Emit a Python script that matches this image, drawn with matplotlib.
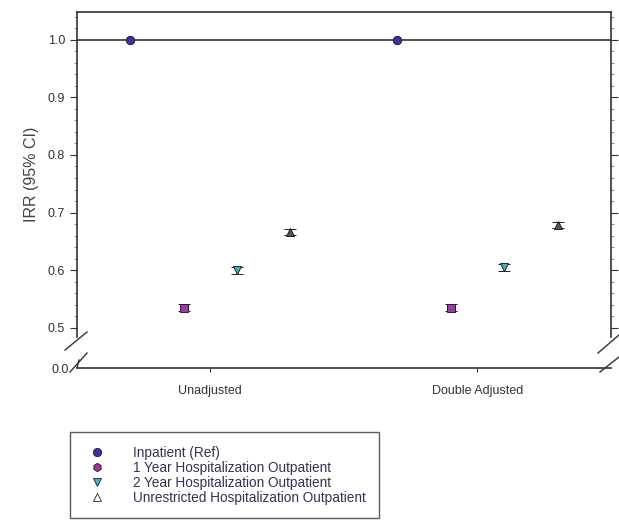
import matplotlib
matplotlib.use("Agg")
import matplotlib.pyplot as plt
from matplotlib.lines import Line2D
from matplotlib.ticker import MultipleLocator
import numpy as np

plt.rcParams['font.family'] = ['Liberation Sans', 'DejaVu Sans']

# data
categories = ['Unadjusted', 'Double Adjusted']
series_names = ['Inpatient (Ref)', '1 Year Hospitalization Outpatient',
                '2 Year Hospitalization Outpatient', 'Unrestricted Hospitalization Outpatient']
inpatient = [1.0, 1.0]
one_year = [0.535, 0.535]
two_year = [0.600, 0.605]
unrestricted = [0.667, 0.678]
ci_half = [0.0, 0.006, 0.006, 0.005]

values = [inpatient, one_year, two_year, unrestricted]
offsets = [-0.3, -0.1, 0.1, 0.3]
markers = ['o', 's', 'v', '^']
face = ['#4a2aa0', '#9a3aa8', '#3ab8c0', '#555555']
legend_face = ['#4a2aa0', '#a0309a', '#3ab8c0', '#ffffff']

fig = plt.figure(figsize=(6.19, 5.23), dpi=100)
ax = fig.add_axes([0.124, 0.356, 0.863, 0.621])
ax_lo = fig.add_axes([0.124, 0.296, 0.863, 0.044])

x = np.arange(len(categories))
for i, (vals, off, m, fc) in enumerate(zip(values, offsets, markers, face)):
    err = ci_half[i] if ci_half[i] > 0 else None
    ax.errorbar(x + off, vals, yerr=err,
                fmt=m, ms=6, mfc=fc, mec='#222222', mew=0.7, ecolor='#222222',
                elinewidth=1.0, capsize=4, capthick=1.2, zorder=3)

ax.axhline(1.0, color='#333333', lw=1.2, zorder=2)
ax.set_xlim(-0.5, 1.5)
ax.set_ylim(0.4845, 1.048)
ax.yaxis.set_major_locator(MultipleLocator(0.1))
ax.yaxis.set_minor_locator(MultipleLocator(0.02))
ax.tick_params(axis='y', which='major', direction='out', length=5, labelsize=9, colors='#333333')
ax.tick_params(axis='y', which='minor', direction='out', length=2, colors='#777777')
ax.tick_params(axis='y', which='both', right=True)
ax.tick_params(axis='x', bottom=False, labelbottom=False)
ax.spines['bottom'].set_visible(False)
for s in ['left', 'right', 'top']:
    ax.spines[s].set_color('#333333')
    ax.spines[s].set_linewidth(1.2)
ax.set_ylabel('IRR (95% CI)', fontsize=11.5, color='#444444', labelpad=6)

ax_lo.set_xlim(-0.5, 1.5)
ax_lo.set_ylim(0, 0.04)
ax_lo.set_yticks([0.0])
ax_lo.set_yticklabels(['0.0'])
ax_lo.set_xticks(x)
ax_lo.set_xticklabels(categories)
ax_lo.tick_params(axis='y', length=0, labelsize=9, colors='#333333', pad=6)
ax_lo.tick_params(axis='x', direction='out', length=3, labelsize=9, colors='#333333', pad=9)
ax_lo.spines['top'].set_visible(False)
ax_lo.spines['left'].set_visible(False)
ax_lo.spines['right'].set_visible(False)
ax_lo.spines['bottom'].set_color('#333333')
ax_lo.spines['bottom'].set_linewidth(1.2)
ax_lo.patch.set_alpha(0)

# break marks
W, H = 619.0, 523.0
def px_line(x0, y0, x1, y1):
    fig.add_artist(Line2D([x0 / W, x1 / W], [1 - y0 / H, 1 - y1 / H], color='#333333', lw=1.0))

px_line(65, 350, 87, 332)
px_line(70, 372, 87, 353)
px_line(598, 353, 619, 335)
px_line(600, 372, 619, 357)
px_line(77, 368, 79, 360)

# legend below the plot
handles = [Line2D([], [], ls='none', marker=m, ms=6, mfc=fc, mec='#222222', mew=0.6)
           for m, fc in zip(['o', 'h', 'v', '^'], legend_face)]
leg = fig.legend(handles, series_names, loc='upper left', bbox_to_anchor=(0.113, 0.174),
                 frameon=True, fontsize=9.8, handletextpad=1.6, borderpad=1.0,
                 labelspacing=0.08, fancybox=False, edgecolor='#333333', borderaxespad=0)
leg.get_frame().set_linewidth(1.0)
for t in leg.get_texts():
    t.set_color('#333355')

fig.savefig('out.png', dpi=100, facecolor='white')
